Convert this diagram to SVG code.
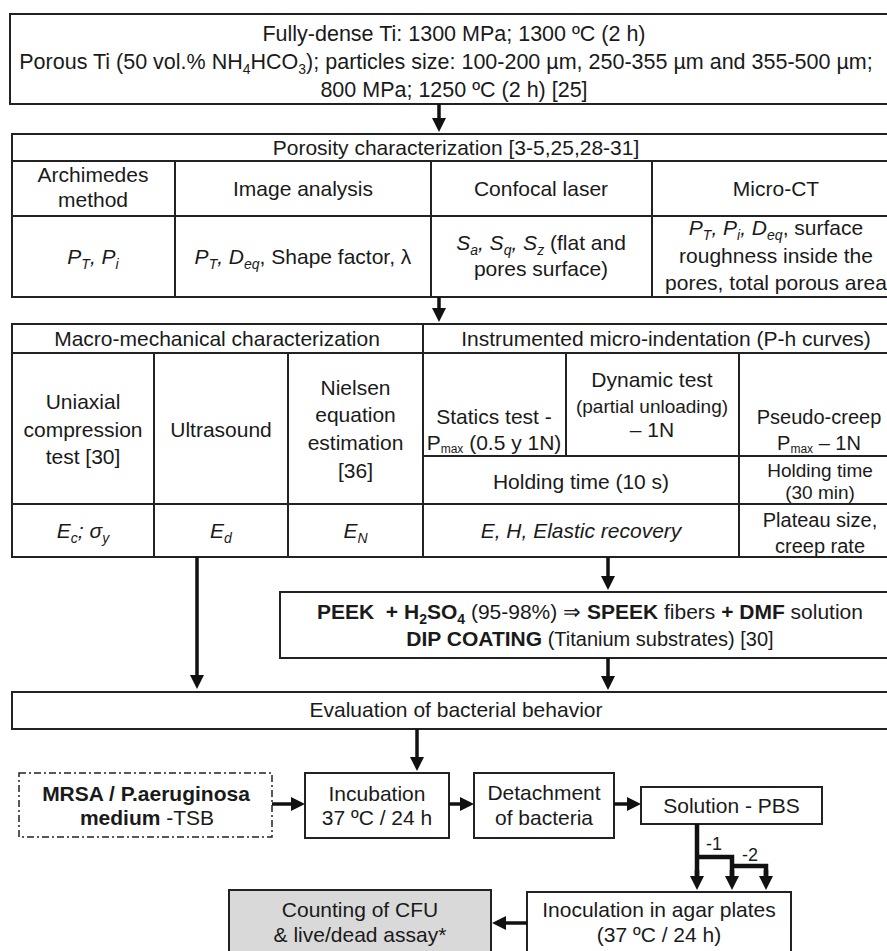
<svg xmlns="http://www.w3.org/2000/svg" width="887" height="951" viewBox="0 0 887 951">
<style>
.t{font-family:"Liberation Sans",Arial,sans-serif;font-size:21px;fill:#1a1a1a;text-anchor:middle}
.b{font-weight:bold}
.i{font-style:italic}
.s{font-size:14px}
.m{font-size:12px}
.box{fill:#fff;stroke:#222;stroke-width:2}
.ln{stroke:#222;stroke-width:2;fill:none}
.ar{stroke:#111;stroke-width:3.5;fill:none;marker-end:url(#ah)}
.br{stroke:#111;stroke-width:4.5;fill:none}
</style>
<defs>
<marker id="ah" viewBox="0 0 14 14" markerWidth="14" markerHeight="14" refX="1" refY="7" orient="auto" markerUnits="userSpaceOnUse">
<path d="M0,0 L14,7 L0,14 z" fill="#111"/>
</marker>
</defs>
<rect width="887" height="951" fill="#fff"/>

<g id="processing">
<rect class="box" x="10" y="14" width="900" height="90"/>
<text class="t" x="454" y="40.5" style="font-size:21.5px">Fully-dense Ti: 1300 MPa; 1300 ºC (2 h)</text>
<text class="t" x="446" y="68.5" style="font-size:21.5px">Porous Ti (50 vol.% NH<tspan class="s" dy="5">4</tspan><tspan dy="-5">HCO</tspan><tspan class="s" dy="5">3</tspan><tspan dy="-5">); particles size: 100-200 µm, 250-355 µm and 355-500 µm;</tspan></text>
<text class="t" x="454" y="96.5" style="font-size:21.5px">800 MPa; 1250 ºC (2 h) [25]</text>
</g>

<g id="porosity">
<rect class="box" x="12" y="134" width="900" height="163"/>
<path class="ln" d="M12,161 H912 M12,216 H912 M175,161 V297 M431,161 V297 M652,161 V297"/>
<text class="t" x="456" y="155">Porosity characterization [3-5,25,28-31]</text>
<text class="t" x="93" y="182">Archimedes</text>
<text class="t" x="93" y="207">method</text>
<text class="t" x="303" y="196">Image analysis</text>
<text class="t" x="541" y="196">Confocal laser</text>
<text class="t" x="776" y="196">Micro-CT</text>
<text class="t i" x="93" y="264">P<tspan class="s" dy="5">T</tspan><tspan dy="-5">, P</tspan><tspan class="s" dy="5">i</tspan></text>
<text class="t" x="303" y="264"><tspan class="i">P</tspan><tspan class="i s" dy="5">T</tspan><tspan class="i" dy="-5">, D</tspan><tspan class="i s" dy="5">eq</tspan><tspan dy="-5">, Shape factor, λ</tspan></text>
<text class="t" x="541" y="250"><tspan class="i">S</tspan><tspan class="i s" dy="5">a</tspan><tspan class="i" dy="-5">, S</tspan><tspan class="i s" dy="5">q</tspan><tspan class="i" dy="-5">, S</tspan><tspan class="i s" dy="5">z</tspan><tspan dy="-5"> (flat and</tspan></text>
<text class="t" x="541" y="276">pores surface)</text>
<text class="t" x="776" y="235"><tspan class="i">P</tspan><tspan class="i s" dy="5">T</tspan><tspan class="i" dy="-5">, P</tspan><tspan class="i s" dy="5">i</tspan><tspan class="i" dy="-5">, D</tspan><tspan class="i s" dy="5">eq</tspan><tspan dy="-5">, surface</tspan></text>
<text class="t" x="776" y="263">roughness inside the</text>
<text class="t" x="776" y="290">pores, total porous area</text>
</g>

<g id="mechanical">
<rect class="box" x="12" y="324" width="900" height="233"/>
<path class="ln" d="M12,353 H912 M423,456 H912 M12,504 H912 M154,353 V557 M288,353 V557 M423,324 V557 M566,353 V456 M739,353 V557"/>
<text class="t" x="217" y="346">Macro-mechanical characterization</text>
<text class="t" x="666" y="346">Instrumented micro-indentation (P-h curves)</text>
<text class="t" x="83" y="409">Uniaxial</text>
<text class="t" x="83" y="437">compression</text>
<text class="t" x="83" y="464">test [30]</text>
<text class="t" x="221" y="437">Ultrasound</text>
<text class="t" x="355.5" y="395">Nielsen</text>
<text class="t" x="355.5" y="422">equation</text>
<text class="t" x="355.5" y="450">estimation</text>
<text class="t" x="355.5" y="478">[36]</text>
<text class="t" x="494" y="424">Statics test -</text>
<text class="t" x="494" y="450">P<tspan class="m" dy="3">max</tspan><tspan dy="-3"> (0.5 y 1N)</tspan></text>
<text class="t" x="652" y="387">Dynamic test</text>
<text class="t" x="652" y="413" style="font-size:19px">(partial unloading)</text>
<text class="t" x="652" y="437">– 1N</text>
<text class="t" x="819" y="424" style="font-size:20px">Pseudo-creep</text>
<text class="t" x="819" y="450" style="font-size:20px">P<tspan class="m" dy="3">max</tspan><tspan dy="-3"> – 1N</tspan></text>
<text class="t" x="581" y="489">Holding time (10 s)</text>
<text class="t" x="820" y="477" style="font-size:19px">Holding time</text>
<text class="t" x="820" y="499" style="font-size:19px">(30 min)</text>
<text class="t i" x="83" y="538">E<tspan class="s" dy="5">c</tspan><tspan dy="-5">; σ</tspan><tspan class="s" dy="5">y</tspan></text>
<text class="t i" x="221" y="538">E<tspan class="s" dy="5">d</tspan></text>
<text class="t i" x="355.5" y="538">E<tspan class="s" dy="5">N</tspan></text>
<text class="t i" x="581" y="538">E, H, Elastic recovery</text>
<text class="t" x="820" y="527" style="font-size:20px">Plateau size,</text>
<text class="t" x="820" y="553" style="font-size:20px">creep rate</text>
</g>

<g id="coating">
<rect class="box" x="280" y="592" width="620" height="66"/>
<text class="t" x="590" y="619"><tspan class="b">PEEK&#160; + H</tspan><tspan class="b s" dy="5">2</tspan><tspan class="b" dy="-5">SO</tspan><tspan class="b s" dy="5">4</tspan><tspan dy="-5"> (95-98%) ⇒ </tspan><tspan class="b">SPEEK</tspan><tspan> fibers </tspan><tspan class="b">+ DMF</tspan><tspan> solution</tspan></text>
<text class="t" x="590" y="646"><tspan class="b">DIP COATING</tspan><tspan style="font-size:20px"> (Titanium substrates) [30]</tspan></text>
</g>

<g id="evaluation">
<rect class="box" x="12" y="692" width="900" height="37"/>
<text class="t" x="456" y="717">Evaluation of bacterial behavior</text>
</g>

<g id="mrsa">
<rect x="19" y="773" width="253" height="64" fill="#fff" stroke="#222" stroke-width="1.5" stroke-dasharray="7,3,2,3"/>
<text class="t b" x="146" y="801">MRSA / P.aeruginosa</text>
<text class="t" x="147" y="825"><tspan class="b">medium</tspan> -TSB</text>
</g>

<g id="incubation">
<rect class="box" x="305" y="773" width="144" height="65"/>
<text class="t" x="377" y="801">Incubation</text>
<text class="t" x="377" y="825">37 ºC / 24 h</text>
</g>

<g id="detachment">
<rect class="box" x="474" y="773" width="140" height="65"/>
<text class="t" x="544" y="800">Detachment</text>
<text class="t" x="544" y="825">of bacteria</text>
</g>

<g id="solution">
<rect class="box" x="641" y="787" width="181" height="37"/>
<text class="t" x="731.5" y="813">Solution - PBS</text>
</g>

<g id="counting">
<rect x="229" y="890" width="262" height="80" fill="#d9d9d9" stroke="#222" stroke-width="2"/>
<text class="t" x="360" y="917">Counting of CFU</text>
<text class="t" x="360" y="942">&amp; live/dead assay*</text>
</g>

<g id="inoculation">
<rect class="box" x="527" y="892" width="264" height="80"/>
<text class="t" x="659" y="917">Inoculation in agar plates</text>
<text class="t" x="659" y="942">(37 ºC / 24 h)</text>
</g>

<g id="connectors">
<line class="ar" x1="439" y1="104" x2="439" y2="119"/>
<line class="ar" x1="439" y1="297" x2="439" y2="309"/>
<line class="ar" x1="197" y1="557" x2="197" y2="676"/>
<line class="ar" x1="608" y1="557" x2="608" y2="577"/>
<line class="ar" x1="608" y1="658" x2="608" y2="677"/>
<line class="ar" x1="417" y1="729" x2="417" y2="758"/>
<line class="ar" x1="272" y1="804" x2="292" y2="804"/>
<line class="ar" x1="449" y1="804" x2="461" y2="804"/>
<line class="ar" x1="614" y1="804" x2="628" y2="804"/>
<path class="br" d="M697,824 V877 M697,857 H732 V877 M732,866 H766 V877"/>
<line class="ar" x1="697" y1="870" x2="697" y2="877" style="stroke-width:4.5"/>
<line class="ar" x1="732" y1="870" x2="732" y2="877" style="stroke-width:4.5"/>
<line class="ar" x1="766" y1="870" x2="766" y2="877" style="stroke-width:4.5"/>
<line class="ar" x1="527" y1="923" x2="505" y2="923"/>
<text class="t" x="714" y="850" style="font-size:18px">-1</text>
<text class="t" x="750" y="861" style="font-size:18px">-2</text>
</g>
</svg>
